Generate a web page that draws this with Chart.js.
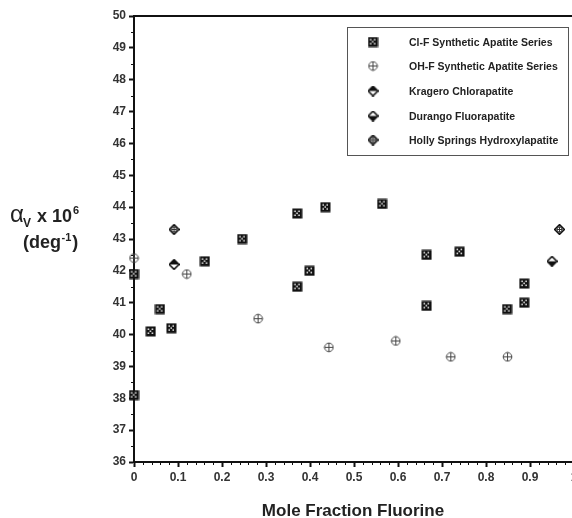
<!DOCTYPE html>
<html>
<head>
<meta charset="utf-8">
<script src="https://cdn.jsdelivr.net/npm/chart.js@4/dist/chart.umd.min.js"></script>
<style>
html,body{margin:0;padding:0;background:#fff;overflow:hidden;width:572px;height:518px;}
#wrap{position:absolute;left:0;top:0;width:580px;height:518px;}
</style>
</head>
<body>
<div id="wrap"><canvas id="c" width="580" height="518"></canvas></div>
<script>
// ---- Data ----
const seriesLabels = [
  'Cl-F Synthetic Apatite Series',
  'OH-F Synthetic Apatite Series',
  'Kragero Chlorapatite',
  'Durango Fluorapatite',
  'Holly Springs Hydroxylapatite'
];
const clfX = [0, 0, 0.038, 0.059, 0.085, 0.161, 0.246, 0.371, 0.371, 0.399, 0.435, 0.564, 0.665, 0.665, 0.740, 0.848, 0.887, 0.887];
const clfY = [41.9, 38.1, 40.1, 40.8, 40.2, 42.3, 43.0, 43.8, 41.5, 42.0, 44.0, 44.1, 42.5, 40.9, 42.6, 40.8, 41.6, 41.0];
const ohfX = [0, 0.12, 0.282, 0.443, 0.595, 0.72, 0.849];
const ohfY = [42.4, 41.9, 40.5, 39.6, 39.8, 39.3, 39.3];
const krageroX = [0.091];
const krageroY = [42.2];
const durangoX = [0.95];
const durangoY = [42.3];
const hollyX = [0.091, 0.967];
const hollyY = [43.3, 43.3];
const xTickLabels = ['0','0.1','0.2','0.3','0.4','0.5','0.6','0.7','0.8','0.9','1'];
const yTickLabels = ['36','37','38','39','40','41','42','43','44','45','46','47','48','49','50'];

function pts(xs, ys){ return xs.map((x,i)=>({x:x, y:ys[i]})); }

// ---- Marker images ----
function mk(size, draw){
  const c = document.createElement('canvas');
  c.width = size; c.height = size;
  const g = c.getContext('2d');
  draw(g, size);
  return c;
}
const mSquare = mk(11, (g)=>{
  g.fillStyle = '#111'; g.fillRect(0.5,0.5,10,10);
  g.fillStyle = '#fff';
  [[3,3],[7,3],[5,5],[3,7],[7,7]].forEach(p=>g.fillRect(p[0]-0.5,p[1]-0.5,1.5,1.5));
});
const mCircle = mk(11, (g)=>{
  g.strokeStyle = '#444'; g.lineWidth = 1;
  g.beginPath(); g.arc(5.5,5.5,4.3,0,Math.PI*2); g.stroke();
  g.beginPath(); g.moveTo(1.2,5.5); g.lineTo(9.8,5.5); g.moveTo(5.5,1.2); g.lineTo(5.5,9.8); g.stroke();
});
function diamondPath(g){
  g.beginPath(); g.moveTo(5.5,0.6); g.lineTo(10.4,5.5); g.lineTo(5.5,10.4); g.lineTo(0.6,5.5); g.closePath();
}
const mKragero = mk(11, (g)=>{
  g.fillStyle='#fff'; diamondPath(g); g.fill();
  g.fillStyle='#111'; g.beginPath(); g.moveTo(5.5,0.6); g.lineTo(10.4,5.5); g.lineTo(0.6,5.5); g.closePath(); g.fill();
  g.strokeStyle='#111'; g.lineWidth=1.5; diamondPath(g); g.stroke();
});
const mDurango = mk(11, (g)=>{
  g.fillStyle='#fff'; diamondPath(g); g.fill();
  g.fillStyle='#111'; g.beginPath(); g.moveTo(0.6,5.5); g.lineTo(10.4,5.5); g.lineTo(5.5,10.4); g.closePath(); g.fill();
  g.strokeStyle='#111'; g.lineWidth=1.5; diamondPath(g); g.stroke();
});
const mHolly = mk(11, (g)=>{
  g.fillStyle='#fff'; diamondPath(g); g.fill();
  g.strokeStyle='#111'; g.lineWidth=1.5; diamondPath(g); g.stroke();
  g.lineWidth=1; g.strokeStyle='#333';
  g.beginPath(); g.arc(5.5,5.5,2.6,0,Math.PI*2); g.stroke();
  g.beginPath(); g.moveTo(2.5,5.5); g.lineTo(8.5,5.5); g.moveTo(5.5,2.5); g.lineTo(5.5,8.5); g.stroke();
});
const markers = [mSquare, mCircle, mKragero, mDurango, mHolly];

// ---- Plugins ----
const decor = {
  id: 'decor',
  beforeDatasetsDraw(chart){
    const {ctx, chartArea:a, scales:{x, y}} = chart;
    ctx.save();
    ctx.strokeStyle = '#111';
    ctx.lineWidth = 2;
    ctx.beginPath(); ctx.moveTo(a.left, a.top); ctx.lineTo(a.right, a.top); ctx.stroke();
    ctx.beginPath(); ctx.moveTo(a.right, a.top); ctx.lineTo(a.right, a.bottom); ctx.stroke();
    ctx.lineWidth = 1;
    for (let v = 36.5; v < 50; v += 1){
      const py = Math.round(y.getPixelForValue(v)) + 0.5;
      ctx.beginPath(); ctx.moveTo(a.left - 3, py); ctx.lineTo(a.left, py); ctx.stroke();
    }
    for (let i = 1; i < 50; i++){
      if (i % 5 === 0) continue;
      const px = Math.round(x.getPixelForValue(i * 0.02)) + 0.5;
      ctx.beginPath(); ctx.moveTo(px, a.bottom); ctx.lineTo(px, a.bottom + 3); ctx.stroke();
    }
    ctx.restore();
  },
  afterDraw(chart){
    const ctx = chart.ctx;
    const F = '"Liberation Sans", Arial, sans-serif';
    ctx.save();
    ctx.fillStyle = '#222';
    ctx.textBaseline = 'alphabetic';
    ctx.textAlign = 'left';
    // y-axis title
    ctx.font = 'normal 24px ' + F;
    ctx.fillText('\u03B1', 10, 222);
    ctx.font = 'bold 12px ' + F;
    ctx.fillText('V', 23, 227);
    ctx.font = 'bold 18px ' + F;
    ctx.fillText('x 10', 37, 222);
    ctx.font = 'bold 11px ' + F;
    ctx.fillText('6', 73, 214);
    ctx.font = 'bold 18px ' + F;
    let xx = 23;
    ctx.fillText('(deg', xx, 248); xx += ctx.measureText('(deg').width + 0.5;
    ctx.font = 'bold 11px ' + F;
    ctx.fillText('-1', xx, 241); xx += ctx.measureText('-1').width + 1;
    ctx.font = 'bold 18px ' + F;
    ctx.fillText(')', xx, 248);
    // x-axis title
    ctx.textAlign = 'center';
    ctx.font = 'bold 17px ' + F;
    ctx.fillText('Mole Fraction Fluorine', 353, 516);
    // legend
    ctx.strokeStyle = '#555'; ctx.lineWidth = 1;
    ctx.strokeRect(347.5, 27.5, 221, 128);
    ctx.textAlign = 'left'; ctx.textBaseline = 'middle';
    ctx.font = 'bold 10.5px ' + F;
    ctx.fillStyle = '#222';
    const rows = [42, 66, 91, 116, 140];
    seriesLabels.forEach((lab, i) => {
      const m = markers[i];
      ctx.drawImage(m, 373 - m.width/2, rows[i] - m.height/2);
      ctx.fillText(lab, 409, rows[i] + 1);
    });
    ctx.restore();
  }
};

const tickFont = {family: '"Liberation Sans", Arial, sans-serif', size: 12, weight: 'bold'};

new Chart(document.getElementById('c'), {
  type: 'scatter',
  data: {
    datasets: [
      {label: seriesLabels[0], data: pts(clfX, clfY), pointStyle: mSquare},
      {label: seriesLabels[1], data: pts(ohfX, ohfY), pointStyle: mCircle},
      {label: seriesLabels[2], data: pts(krageroX, krageroY), pointStyle: mKragero},
      {label: seriesLabels[3], data: pts(durangoX, durangoY), pointStyle: mDurango},
      {label: seriesLabels[4], data: pts(hollyX, hollyY), pointStyle: mHolly}
    ].map(d => Object.assign(d, {clip: false, pointRadius: 5, pointHoverRadius: 5}))
  },
  options: {
    responsive: false,
    devicePixelRatio: 1,
    animation: false,
    events: [],
    layout: {padding: {left: 0, right: 6, top: 16, bottom: 0}},
    plugins: {legend: {display: false}, tooltip: {enabled: false}, title: {display: false}},
    scales: {
      x: {
        type: 'linear', min: 0, max: 1,
        border: {display: true, color: '#111', width: 2},
        grid: {drawOnChartArea: false, drawTicks: true, tickLength: 5, tickColor: '#111', tickWidth: 2},
        ticks: {stepSize: 0.1, color: '#333', font: tickFont, padding: 3, maxRotation: 0, autoSkip: false,
          callback: (v, i) => xTickLabels[i]},
        afterFit: (s) => { s.height = 56; s.paddingRight = 0; s.paddingLeft = 0; }
      },
      y: {
        type: 'linear', min: 36, max: 50,
        border: {display: true, color: '#111', width: 2},
        grid: {drawOnChartArea: false, drawTicks: true, tickLength: 5, tickColor: '#111', tickWidth: 2},
        ticks: {stepSize: 1, color: '#333', font: tickFont, padding: 3,
          callback: (v, i) => yTickLabels[i]},
        afterFit: (s) => { s.width = 134; s.paddingTop = 0; s.paddingBottom = 0; }
      }
    }
  },
  plugins: [decor]
});
</script>
</body>
</html>
